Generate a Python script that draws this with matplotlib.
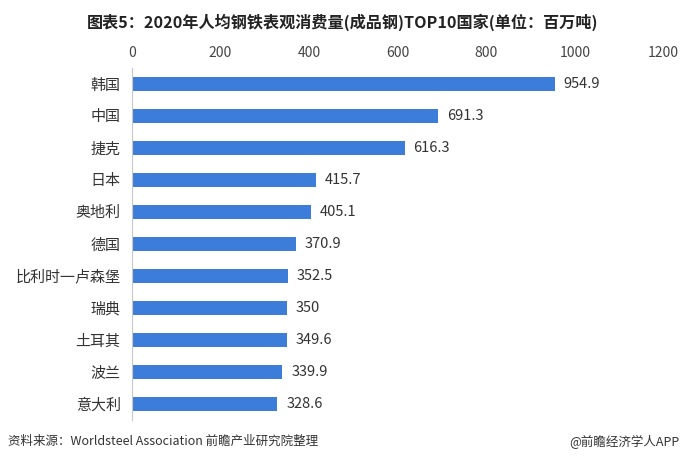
import matplotlib
matplotlib.use('Agg')
import matplotlib.pyplot as plt
import numpy as np

plt.rcParams['font.family'] = ['Noto Sans CJK SC', 'DejaVu Sans']

countries = ['韩国', '中国', '捷克', '日本', '奥地利', '德国', '比利时一卢森堡', '瑞典', '土耳其', '波兰', '意大利']
values = [954.9, 691.3, 616.3, 415.7, 405.1, 370.9, 352.5, 350, 349.6, 339.9, 328.6]
value_labels = ['954.9', '691.3', '616.3', '415.7', '405.1', '370.9', '352.5', '350', '349.6', '339.9', '328.6']
xticks = [0, 200, 400, 600, 800, 1000, 1200]

fig = plt.figure(figsize=(6.86, 4.65), dpi=100)
ax = fig.add_axes([0.192, 0.097, 0.775, 0.757])

y = np.arange(len(countries))
ax.barh(y, values, height=0.42, color='#3b7dd8')
for yi, v, lab in zip(y, values, value_labels):
    ax.text(v + 20, yi, lab, va='center', ha='left', fontsize=10.5, color='#333333')

ax.set_ylim(len(countries) - 0.5, -0.5)
ax.set_xlim(0, 1200)
ax.set_yticks(y)
ax.set_yticklabels(countries, fontsize=10.8, color='#333333')
ax.set_xticks(xticks)
ax.set_xticklabels([str(t) for t in xticks], fontsize=10, color='#444444')
ax.xaxis.tick_top()
ax.tick_params(axis='both', length=0, pad=8)
ax.tick_params(axis='x', pad=6)
for s in ['top', 'right', 'bottom']:
    ax.spines[s].set_visible(False)
ax.spines['left'].set_color('#c8c8c8')

fig.text(0.5, 0.953, '图表5：2020年人均钢铁表观消费量(成品钢)TOP10国家(单位：百万吨)',
         ha='center', va='center', fontsize=11.6, fontweight='bold', color='#222222')
fig.text(0.012, 0.05, '资料来源：Worldsteel Association 前瞻产业研究院整理',
         ha='left', va='center', fontsize=9, color='#333333')
fig.text(0.99, 0.05, '@前瞻经济学人APP', ha='right', va='center', fontsize=9, color='#333333')

fig.savefig('out.png', dpi=100)
